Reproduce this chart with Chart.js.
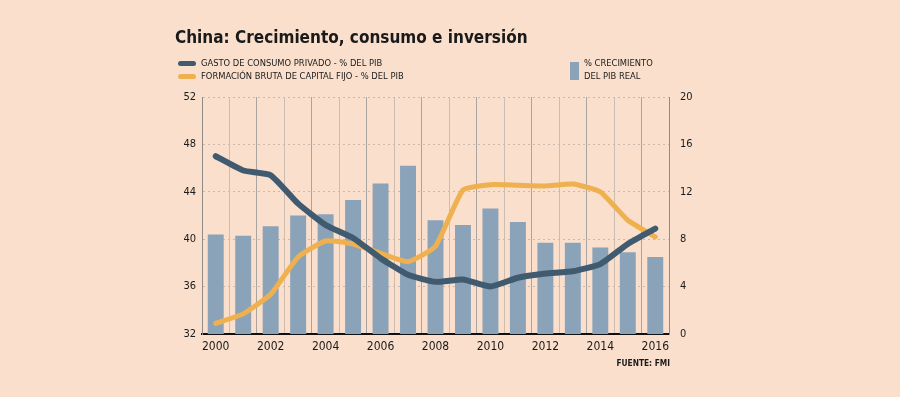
<!DOCTYPE html>
<html>
<head>
<meta charset="utf-8">
<script src="https://cdn.jsdelivr.net/npm/chart.js@4"></script>
<style>
  html, body { margin: 0; padding: 0; background: #f9dfcc; }
  #wrap { position: relative; width: 900px; height: 397px; overflow: hidden; }
  #wrap canvas { position: absolute; left: 0; top: 0; }
  .t { position: absolute; font-family: "DejaVu Sans Condensed", "DejaVu Sans", sans-serif; color: #1a1a1a; white-space: nowrap; }
  #title { left: 175px; top: 27px; font-size: 17px; font-weight: bold; }
  .lg { font-size: 9.3px; line-height: 13px; }
  .sw { position: absolute; height: 5px; width: 18px; border-radius: 3px; }
  #src { right: 230px; top: 358px; font-size: 8.3px; font-weight: bold; }
</style>
</head>
<body>
<div id="wrap">
  <canvas id="chinaChart" width="900" height="397"></canvas>
  <div class="t" id="title">China: Crecimiento, consumo e inversión</div>
  <div class="sw" style="left:178px; top:61px; background:#405a70"></div>
  <div class="t lg" style="left:201px; top:56px">GASTO DE CONSUMO PRIVADO - % DEL PIB</div>
  <div class="sw" style="left:178px; top:74px; background:#efb14f"></div>
  <div class="t lg" style="left:201px; top:69px">FORMACIÓN BRUTA DE CAPITAL FIJO - % DEL PIB</div>
  <div style="position:absolute; left:570px; top:62px; width:9px; height:18px; background:#8aa3b9"></div>
  <div class="t lg" style="left:584px; top:56px">% CRECIMIENTO<br>DEL PIB REAL</div>
  <div class="t" id="src">FUENTE: FMI</div>
</div>
<script>
const years = ['2000','2001','2002','2003','2004','2005','2006','2007','2008',
               '2009','2010','2011','2012','2013','2014','2015','2016'];
const consumo = [47.0, 45.8, 45.4, 43.0, 41.2, 40.1, 38.4, 37.0, 36.4,
                 36.6, 36.0, 36.75, 37.1, 37.3, 37.9, 39.6, 40.9];
const inversion = [32.9, 33.7, 35.35, 38.5, 39.85, 39.6, 38.8, 38.1, 39.4,
                   44.15, 44.6, 44.55, 44.5, 44.65, 44.0, 41.6, 40.2];
const crecimiento = [8.4, 8.3, 9.1, 10.0, 10.1, 11.3, 12.7, 14.2, 9.6,
                     9.2, 10.6, 9.45, 7.7, 7.7, 7.3, 6.9, 6.5];

const chart_ctx = document.getElementById('chinaChart');
new Chart(chart_ctx, {
    type: 'bar',
    data: {
        labels: years,
        datasets: [
            {
                type: 'line',
                label: 'GASTO DE CONSUMO PRIVADO - % DEL PIB',
                data: consumo,
                yAxisID: 'y',
                borderColor: '#405a70',
                borderWidth: 6,
                pointRadius: 0,
                tension: 0.15,
                borderJoinStyle: 'round',
                borderCapStyle: 'round',
                order: 0
            },
            {
                type: 'line',
                label: 'FORMACIÓN BRUTA DE CAPITAL FIJO - % DEL PIB',
                data: inversion,
                yAxisID: 'y',
                borderColor: '#efb14f',
                borderWidth: 5,
                pointRadius: 0,
                tension: 0.15,
                borderJoinStyle: 'round',
                borderCapStyle: 'round',
                order: 1
            },
            {
                label: '% CRECIMIENTO DEL PIB REAL',
                data: crecimiento,
                yAxisID: 'y1',
                backgroundColor: '#8aa3b9',
                barPercentage: 0.58,
                categoryPercentage: 1,
                order: 2
            }
        ]
    },
    options: {
        responsive: false,
        animation: false,
        layout: { padding: { left: 172, right: 201, top: 97, bottom: 39 } },
        plugins: { legend: { display: false }, tooltip: { enabled: false } },
        scales: {
            x: {
                offset: true,
                grid: {
                    offset: true,
                    drawTicks: false,
                    color: (c) => c.index % 2 === 0 ? '#a9a4a0' : '#cdbdb0',
                    lineWidth: 1
                },
                border: { color: '#111', width: 2 },
                ticks: {
                    autoSkip: false,
                    maxRotation: 0,
                    padding: 6,
                    color: '#1a1a1a',
                    font: { family: 'DejaVu Sans Condensed', size: 12 },
                    callback: function (v, i) { return i % 2 === 0 ? this.getLabelForValue(v) : ''; }
                },
                afterFit: (s) => { s.height = 24; }
            },
            y: {
                position: 'left',
                min: 32, max: 52,
                ticks: {
                    stepSize: 4,
                    padding: 6,
                    color: '#1a1a1a',
                    font: { family: 'DejaVu Sans Condensed', size: 11 }
                },
                grid: { color: '#c9b8ab', drawTicks: false },
                border: { color: '#8f8a86', dash: [2, 3] },
                afterFit: (s) => { s.width = 30; }
            },
            y1: {
                position: 'right',
                min: 0, max: 20,
                ticks: {
                    stepSize: 4,
                    padding: 3,
                    color: '#1a1a1a',
                    font: { family: 'DejaVu Sans Condensed', size: 11 }
                },
                grid: { display: false },
                border: { color: '#8f8a86' },
                afterFit: (s) => { s.width = 30; }
            }
        }
    }
});
</script>
</body>
</html>
